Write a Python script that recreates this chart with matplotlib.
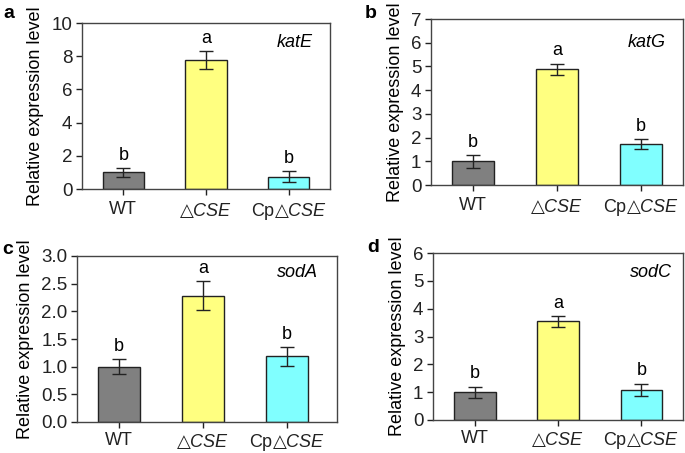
import matplotlib
matplotlib.use('Agg')
import matplotlib.pyplot as plt

plt.rcParams['font.family'] = ['Liberation Sans', 'DejaVu Sans']
plt.rcParams['mathtext.fontset'] = 'custom'
plt.rcParams['mathtext.rm'] = 'Liberation Sans'
plt.rcParams['mathtext.it'] = 'Liberation Sans:italic'
plt.rcParams['mathtext.sf'] = 'Noto Sans CJK SC'

# data
strains = ['WT', r'$\mathsf{△}\mathit{CSE}$', r'Cp$\mathsf{△}\mathit{CSE}$']
genes = ['katE', 'katG', 'sodA', 'sodC']
panel_tags = ['a', 'b', 'c', 'd']

katE_mean = [1.0, 7.78, 0.75]
katE_err = [0.25, 0.53, 0.33]
katG_mean = [1.0, 4.88, 1.72]
katG_err = [0.27, 0.24, 0.22]
sodA_mean = [1.0, 2.28, 1.19]
sodA_err = [0.14, 0.26, 0.17]
sodC_mean = [1.0, 3.54, 1.09]
sodC_err = [0.2, 0.2, 0.22]

sig_letters = ['b', 'a', 'b']
ylims = [10, 7, 3, 6]
yticks = [[0, 2, 4, 6, 8, 10], [0, 1, 2, 3, 4, 5, 6, 7],
          [0.0, 0.5, 1.0, 1.5, 2.0, 2.5, 3.0], [0, 1, 2, 3, 4, 5, 6]]
colors = ['#808080', '#ffff80', '#80ffff']

means = [katE_mean, katG_mean, sodA_mean, sodC_mean]
errs = [katE_err, katG_err, sodA_err, sodC_err]

W, H = 685, 453
fig = plt.figure(figsize=(W / 100, H / 100), dpi=100)

# axes boxes in pixels: left, right, top, bottom
boxes = [(82, 330, 23, 189), (431, 683, 19, 185),
         (77, 337, 256, 422), (433, 683, 253, 420)]
xmax = [2.5, 2.5, 2.6, 2.5]
gene_pos = [(0.93, 0.885), (0.93, 0.86), (0.925, 0.9), (0.955, 0.886)]
tag_pos = [(3, 5), (365, 5), (2, 241), (367, 239)]
xpad = [5, 5, 3, 3]

for i in range(4):
    l, r, t, b = boxes[i]
    ax = fig.add_axes([l / W, (H - b) / H, (r - l) / W, (b - t) / H])
    x = range(3)
    ax.bar(x, means[i], width=0.5, color=colors, edgecolor='#222222', linewidth=1)
    ax.errorbar(x, means[i], yerr=errs[i], fmt='none', ecolor='#222222',
                elinewidth=1, capsize=5, capthick=1)
    for j in range(3):
        ax.annotate(sig_letters[j], (j, means[i][j] + errs[i][j]),
                    xytext=(0, 3), textcoords='offset points',
                    ha='center', va='bottom', fontsize=13)
    ax.set_xlim(-0.5, xmax[i])
    ax.set_ylim(0, ylims[i])
    ax.set_yticks(yticks[i])
    if i == 2:
        ax.set_yticklabels(['%.1f' % v for v in yticks[i]])
    ax.set_xticks(list(x))
    ax.set_xticklabels(strains)
    ax.tick_params(axis='both', direction='out', length=4, width=1,
                   colors='#222222')
    ax.tick_params(axis='y', labelsize=13.5, pad=3)
    ax.tick_params(axis='x', labelsize=13, pad=xpad[i])
    for s in ax.spines.values():
        s.set_color('#444444')
        s.set_linewidth(1)
    ax.set_ylabel('Relative expression level', fontsize=13, labelpad=5)
    gx, gy = gene_pos[i]
    ax.text(gx, gy, genes[i], transform=ax.transAxes, ha='right',
            va='center', fontsize=13, style='italic')
    tx, ty = tag_pos[i]
    fig.text(tx / W, (H - ty) / H, panel_tags[i], fontsize=14,
             fontweight='bold', ha='left', va='top')

fig.savefig('out.png', dpi=100)
